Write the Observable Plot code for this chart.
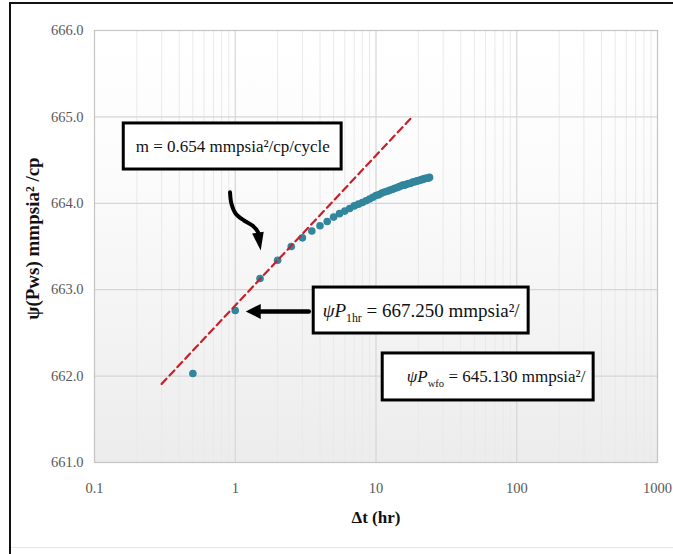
<!DOCTYPE html>
<html><head><meta charset="utf-8">
<script src="https://cdn.jsdelivr.net/npm/d3@7"></script>
<script src="https://cdn.jsdelivr.net/npm/@observablehq/plot@0.6"></script>
<style>
body{margin:0;background:#fff;}
#wrap{position:relative;width:673px;height:554px;overflow:hidden;background:#fff;}
#wrap svg{position:absolute;left:0;top:0;}
.edge{position:absolute;}
</style>
</head><body>
<div id="wrap">
  <div class="edge" style="left:9px;top:2px;width:2px;height:552px;background:#111;"></div>
  <div class="edge" style="left:9px;top:2px;width:664px;height:2px;background:#111;"></div>
  <div class="edge" style="left:11px;top:547px;width:662px;height:1px;background:#e6e6e6;"></div>
</div>
<script>
// ---- data ----
const dtHours = [0.5, 1, 1.5, 2, 2.5, 3, 3.5, 4, 4.5, 5, 5.5, 6, 6.5, 7, 7.5, 8, 8.5, 9, 9.5, 10,
  10.5, 11, 11.5, 12, 12.5, 13, 13.5, 14, 14.5, 15, 15.5, 16, 16.5, 17, 17.5, 18, 18.5, 19, 19.5, 20,
  20.5, 21, 21.5, 22, 22.5, 23, 23.5, 24];
const psiPws = [662.03, 662.76, 663.13, 663.34, 663.50, 663.60, 663.68, 663.74, 663.79, 663.84, 663.88, 663.91, 663.94, 663.97, 663.99, 664.01, 664.03, 664.05, 664.07, 664.09,
  664.10, 664.12, 664.13, 664.14, 664.15, 664.16, 664.17, 664.18, 664.19, 664.20, 664.21, 664.21, 664.22, 664.23, 664.23, 664.24, 664.25, 664.25, 664.26, 664.26,
  664.27, 664.27, 664.28, 664.28, 664.29, 664.29, 664.29, 664.30];

// semilog straight-line fit (red dashed)
const fitT = [0.3, 17.6];
const fitPsi = [661.91, 664.98];

// axis ticks
const xTicks = [0.1, 1, 10, 100, 1000];
const yTicks = [661, 662, 663, 664, 665, 666];
const xMajorGrid = [1, 10, 100];
const yMajorGrid = [662, 663, 664, 665];
const decades = [0.1, 1, 10, 100];
const minorSteps = [2, 3, 4, 5, 6, 7, 8, 9];

// annotation boxes (in data units)
const boxText = ["m = 0.654 mmpsia²/cp/cycle", "ψP_1hr_ = 667.250 mmpsia²/", "ψP_wfo_ = 645.130 mmpsia²/"];
const boxX1 = [0.1614, 3.61, 11.16];
const boxX2 = [5.70, 121.5, 351.8];
const boxY1 = [664.924, 663.025, 662.262];
const boxY2 = [664.391, 662.493, 661.718];
const boxTextX = [0.1965, 4.18, 16.55];
const boxTextY = [664.657, 662.759, 661.99];
const boxFontSize = [17, 19, 17];

// arrows (in data units)
const curveArrowT = [0.918, 0.940, 1.008, 1.155, 1.325, 1.452, 1.493];
const curveArrowPsi = [664.128, 663.994, 663.879, 663.801, 663.743, 663.666, 663.593];
const curveTipT = [1.517], curveTipPsi = [663.454];
const leftArrowT = [3.33, 1.40];
const leftArrowPsi = [662.748, 662.748];
const leftTipT = [1.187], leftTipPsi = [662.748];

// ---- build ----
const minorGrid = decades.flatMap(d => minorSteps.map(k => k * d));
const points = dtHours.map((t, i) => ({t, psi: psiPws[i]}));
const fit = fitT.map((t, i) => ({t, psi: fitPsi[i]}));
const boxes = boxText.map((s, i) => ({s, x1: boxX1[i], x2: boxX2[i], y1: boxY1[i], y2: boxY2[i], tx: boxTextX[i], ty: boxTextY[i]}));
const curve = curveArrowT.map((t, i) => ({t, psi: curveArrowPsi[i]}));
const leftShaft = leftArrowT.map((t, i) => ({t, psi: leftArrowPsi[i]}));

function head(wRatio, lRatio) {
  return {draw(ctx, size) {
    const r = Math.sqrt(size / Math.PI);
    ctx.moveTo(0, 0);
    ctx.lineTo(r * wRatio / 2, r * lRatio);
    ctx.lineTo(-r * wRatio / 2, r * lRatio);
    ctx.closePath();
  }};
}
const curvedHead = head(1.3, 2.0);
const straightHead = head(2.0, 2.0);

const serif = "'Liberation Serif', 'DejaVu Serif', serif";

const boxMarks = boxes.flatMap((b, i) => [
  Plot.rect([b], {x1: "x1", x2: "x2", y1: "y1", y2: "y2", fill: "#fff", stroke: "#000", strokeWidth: 3}),
  Plot.text([b], {x: "tx", y: "ty", text: "s", textAnchor: "start", fontSize: boxFontSize[i], fontFamily: serif, fill: "#111"})
]);

const svg = Plot.plot({
  width: 673, height: 554,
  marginLeft: 94, marginRight: 16, marginTop: 30, marginBottom: 92,
  x: {type: "log", domain: [0.1, 1000]},
  y: {domain: [661, 666]},
  style: {fontFamily: serif, fontSize: "14px", color: "#595959", background: "transparent", overflow: "visible"},
  marks: [
    Plot.frame({fill: "url(#bg)", stroke: "none"}),
    Plot.ruleX(minorGrid, {stroke: "#e9e9e9", strokeWidth: 1}),
    Plot.ruleX(xMajorGrid, {stroke: "#d6d6d6", strokeWidth: 1.2}),
    Plot.ruleY(yMajorGrid, {stroke: "#d6d6d6", strokeWidth: 1.2}),
    Plot.frame({stroke: "#c4c4c4", strokeWidth: 1.2}),
    Plot.axisX(xTicks, {tickSize: 0, tickPadding: 20, tickFormat: d => String(d), label: null, fontSize: 14.5, fill: "#595959"}),
    Plot.axisY(yTicks, {tickSize: 0, tickPadding: 11, tickFormat: d3.format(".1f"), label: null, fontSize: 14.5, fill: "#595959"}),
    Plot.dot(points, {x: "t", y: "psi", r: 3.8, fill: "#31859c", stroke: "none"}),
    Plot.line(fit, {x: "t", y: "psi", stroke: "#c8202a", strokeWidth: 2.2, strokeDasharray: "7,4.5"}),
    ...boxMarks,
    Plot.line(curve, {x: "t", y: "psi", curve: "catmull-rom", stroke: "#000", strokeWidth: 4}),
    Plot.dot(curveTipT, {x: d => d, y: curveTipPsi, symbol: curvedHead, r: 9, rotate: 171, fill: "#000", stroke: "none"}),
    Plot.line(leftShaft, {x: "t", y: "psi", stroke: "#000", strokeWidth: 4.5}),
    Plot.dot(leftTipT, {x: d => d, y: leftTipPsi, symbol: straightHead, r: 7.5, rotate: -90, fill: "#000", stroke: "none"}),
    Plot.text(["Δt (hr)"], {text: d => d, frameAnchor: "bottom", textAnchor: "middle", lineAnchor: "middle", dy: 55, fontSize: 17, fontWeight: "bold", fontFamily: serif, fill: "#111"}),
    Plot.text(["ψ(Pws) mmpsia² /cp"], {text: d => d, frameAnchor: "left", textAnchor: "middle", lineAnchor: "middle", dx: -62, dy: -8, rotate: -90, fontSize: 19, fontWeight: "bold", fontFamily: serif, fill: "#111"})
  ]
});

d3.select(svg).insert("defs", ":first-child").html(
  '<linearGradient id="bg" x1="0" y1="0" x2="0" y2="1"><stop offset="0" stop-color="#ffffff"/><stop offset="0.35" stop-color="#fbfbfb"/><stop offset="1" stop-color="#ececec"/></linearGradient>'
);
document.getElementById("wrap").appendChild(svg);

// subscripts inside annotation labels
for (const el of svg.querySelectorAll("text")) {
  const s = el.textContent;
  if (!s.includes("_")) continue;
  const [a, b, c] = s.split("_");
  const fs = parseFloat(getComputedStyle(el).fontSize) || 18;
  el.textContent = "";
  el.style.whiteSpace = "pre";
  const ns = "http://www.w3.org/2000/svg";
  const t1 = document.createElementNS(ns, "tspan");
  t1.textContent = a; t1.setAttribute("font-style", "italic");
  const t2 = document.createElementNS(ns, "tspan");
  t2.textContent = b; t2.setAttribute("font-size", (fs * 0.62) + "px"); t2.setAttribute("dy", (fs * 0.3) + "px");
  const t3 = document.createElementNS(ns, "tspan");
  t3.textContent = c; t3.setAttribute("dy", (-fs * 0.3) + "px");
  el.append(t1, t2, t3);
}
</script>
</body></html>
